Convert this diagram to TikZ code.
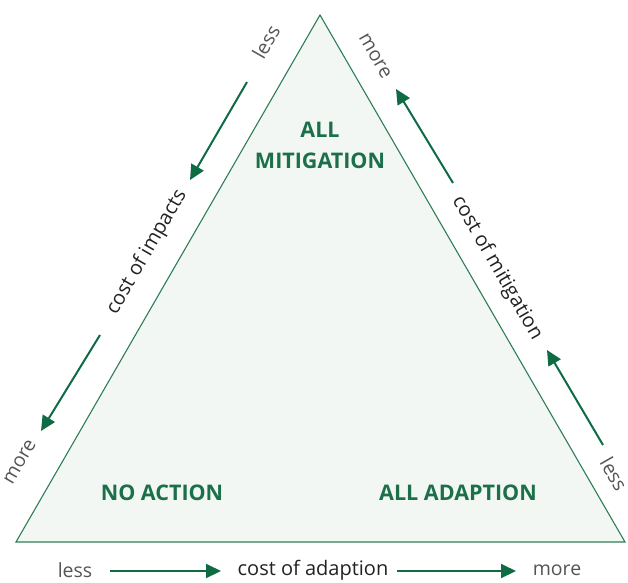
\documentclass[tikz,border=0pt]{standalone}
\usepackage{fontspec}
\setmainfont{Open Sans}
\usetikzlibrary{arrows.meta}
\definecolor{edgegreen}{HTML}{2F7D58}
\definecolor{fillgreen}{HTML}{F2F7F3}
\definecolor{arrowgreen}{HTML}{0F6B44}
\definecolor{labelgreen}{HTML}{1B7049}
\definecolor{textgray}{HTML}{222222}
\definecolor{wordgray}{HTML}{555555}
\tikzset{
  axis/.style={font=\fontsize{20}{24}\selectfont, text=textgray, inner sep=0pt},
  endword/.style={font=\fontsize{19.5}{23}\selectfont, text=wordgray, inner sep=0pt},
  region/.style={font=\fontsize{21.5}{31}\selectfont\bfseries, text=labelgreen, align=center, inner sep=0pt},
  flow/.style={draw=arrowgreen, line width=2pt, -{Triangle[length=15pt,width=14pt]}},
}
\begin{document}
\begin{tikzpicture}[x=1pt,y=-1pt]
\useasboundingbox (0,0) rectangle (628,582);
\coordinate (top) at (320,15);
\coordinate (bl) at (16,542);
\coordinate (br) at (625,542);
\draw[edgegreen, fill=fillgreen, line width=1.1pt, line join=miter] (top) -- (br) -- (bl) -- cycle;

% region labels
\node[region] (allmit) at (320,145) {ALL\\MITIGATION};
\node[region] (noact) at (162,493) {NO ACTION};
\node[region] (alladapt) at (458,493) {ALL ADAPTION};

% left side: cost of impacts
\node[endword, rotate=60] (lless) at (266,42) {less};
\coordinate (la1) at (247,82);
\coordinate (la2) at (190,180);
\draw[flow] (la1) -- (la2);
\node[axis, rotate=60] (impacts) at (147,252) {cost of impacts};
\coordinate (lb1) at (100,335);
\coordinate (lb2) at (41,431);
\draw[flow] (lb1) -- (lb2);
\node[endword, rotate=60] (lmore) at (20,462) {more};

% right side: cost of mitigation
\node[endword, rotate=-60] (rmore) at (375,56) {more};
\coordinate (ra1) at (453,183);
\coordinate (ra2) at (396,89);
\draw[flow] (ra1) -- (ra2);
\node[axis, rotate=-60] (mitig) at (497,268) {cost of mitigation};
\coordinate (rb1) at (603,445);
\coordinate (rb2) at (547,350);
\draw[flow] (rb1) -- (rb2);
\node[endword, rotate=-60] (rless) at (614,474) {less};

% bottom: cost of adaption
\node[endword] (bless) at (75,570) {less};
\node[axis] (adapt) at (313,570) {cost of adaption};
\node[endword] (bmore) at (557,570) {more};
\coordinate (ba1) at (110,571);
\coordinate (ba2) at (221,571);
\draw[flow] (ba1) -- (ba2);
\coordinate (bb1) at (397,571);
\coordinate (bb2) at (516,571);
\draw[flow] (bb1) -- (bb2);
\end{tikzpicture}
\end{document}
